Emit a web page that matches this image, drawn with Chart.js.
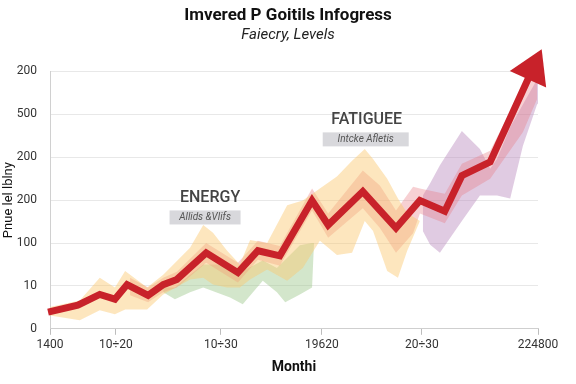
<!DOCTYPE html>
<html>
<head>
<meta charset="utf-8">
<script src="https://cdn.jsdelivr.net/npm/chart.js@4"></script>
<style>
  html, body { margin: 0; padding: 0; background: #fff; }
  #wrap { width: 576px; height: 384px; }
</style>
</head>
<body>
<div id="wrap"><canvas id="chart" width="576" height="384"></canvas></div>
<script>
// axis ticks
const xTicks = [0, 13.5, 35, 55.7, 76.2, 100];
const xTickLabels = ['1400', '10÷20', '10÷30', '19620', '20÷30', '224800'];
const yTickLabels = ['0', '10', '100', '200', '200', '500', '200'];

// main red line
const months = [-0.4, 5.7, 10.2, 13.3, 15.8, 20.1, 23.2, 26.0, 32.0, 38.5, 42.6, 47.1, 53.7, 57.0, 64.1, 70.9, 75.8, 80.9, 84.4, 90.2, 98.2];
const level = [0.39, 0.55, 0.80, 0.69, 1.03, 0.78, 1.03, 1.15, 1.77, 1.31, 1.82, 1.70, 2.99, 2.42, 3.20, 2.35, 2.99, 2.74, 3.57, 3.89, 5.88];

// yellow (energy) band
const yellowX = [-0.4, 6.1, 10.2, 13.3, 15.4, 19.9, 23.2, 28.7, 31.4, 33.4, 36.3, 38.9, 41.0, 44.5, 48.6, 51.8, 55.3, 58.8, 61.9, 64.5, 66.2, 69.1, 71.3, 73.2, 75.8];
const yellowHi = [0.50, 0.66, 1.19, 0.96, 1.35, 0.96, 1.26, 1.89, 2.42, 2.24, 1.82, 1.50, 2.07, 2.00, 2.88, 2.99, 3.27, 3.55, 3.92, 4.19, 3.96, 3.50, 3.04, 2.70, 2.51];
const yellowLo = [0.32, 0.20, 0.43, 0.34, 0.45, 0.45, 0.80, 1.15, 1.19, 1.03, 0.96, 0.96, 1.15, 1.38, 1.12, 1.42, 2.05, 1.72, 1.77, 2.51, 2.28, 1.35, 1.19, 1.82, 2.51];

// pink band
const pinkX = [16.4, 20.1, 23.2, 26.0, 32.0, 38.5, 42.6, 47.1, 53.7, 57.0, 64.1, 67.6, 70.9, 74.4, 75.8, 80.9, 84.4, 90.2, 96.9, 99.8];
const pinkHi = [1.19, 0.96, 1.19, 1.33, 2.00, 1.54, 2.05, 1.93, 3.27, 2.69, 3.69, 3.34, 2.76, 3.31, 3.27, 3.15, 3.85, 4.15, 5.65, 5.92];
const pinkLo = [0.78, 0.62, 0.85, 0.96, 1.54, 1.08, 1.61, 1.47, 2.76, 2.12, 2.81, 2.35, 1.77, 2.23, 2.69, 2.46, 3.11, 3.50, 4.58, 5.35];

// green band
const greenX = [23.2, 25.6, 28.7, 31.4, 36.9, 39.5, 43.6, 46.5, 48.2, 51.2, 53.7, 54.1];
const greenHi = [0.96, 0.96, 1.26, 1.50, 1.50, 1.35, 1.59, 1.42, 1.61, 1.95, 2.00, 2.00];
const greenLo = [0.85, 0.69, 0.85, 0.96, 0.73, 0.57, 1.12, 0.85, 0.62, 0.80, 0.96, 2.00];

// purple band
const purpleX = [76.4, 77.9, 79.9, 84.4, 88.1, 90.2, 91.6, 94.3, 96.9, 99.8, 101.4];
const purpleHi = [3.11, 3.39, 3.81, 4.61, 4.19, 3.73, 3.96, 4.70, 5.23, 5.81, 5.39];
const purpleLo = [2.28, 1.96, 1.77, 2.51, 3.11, 3.11, 3.11, 3.04, 4.26, 5.23, 5.39];

// orange tail next to the arrow
const tailX = [100.4, 102.0, 103.7];
const tailHi = [5.70, 5.58, 5.15];
const tailLo = [5.46, 5.07, 5.00];

const notes = [
    { x: 32.8, y: 3.05, label: 'ENERGY', note: 'Allids &Vlifs', boxW: 71, boxDx: -5 },
    { x: 64.9, y: 4.87, label: 'FATIGUEE', note: 'Intcke Afletis', boxW: 86, boxDx: -1 }
];

const pts = (xs, ys) => xs.map((x, i) => ({ x: x, y: ys[i] }));

function band(xs, lo, hi, color) {
    const base = { pointRadius: 0, borderWidth: 0, borderColor: 'transparent', tension: 0, clip: false };
    return [
        Object.assign({}, base, { data: pts(xs, lo), fill: false }),
        Object.assign({}, base, { data: pts(xs, hi), fill: '-1', backgroundColor: color })
    ];
}

// arrow head at the end of the red line
const arrowHead = {
    id: 'arrowHead',
    afterDatasetsDraw(chart) {
        const p = chart.getDatasetMeta(0).data;
        const a = p[p.length - 2], b = p[p.length - 1];
        let dx = b.x - a.x, dy = b.y - a.y;
        const len = Math.hypot(dx, dy);
        dx /= len; dy /= len;
        const nx = -dy, ny = dx;
        const ctx = chart.ctx;
        ctx.save();
        ctx.fillStyle = '#c8222a';
        ctx.beginPath();
        ctx.moveTo(b.x + dx * 30, b.y + dy * 30);
        ctx.lineTo(b.x - dx * 3 + nx * 20, b.y - dy * 3 + ny * 20);
        ctx.lineTo(b.x - dx * 3 - nx * 20, b.y - dy * 3 - ny * 20);
        ctx.closePath();
        ctx.fill();
        ctx.restore();
    }
};

// labels with grey boxes
const noteLabels = {
    id: 'noteLabels',
    afterDatasetsDraw(chart) {
        const ctx = chart.ctx;
        const xs = chart.scales.x, ys = chart.scales.y;
        ctx.save();
        notes.forEach(n => {
            const cx = xs.getPixelForValue(n.x), cy = ys.getPixelForValue(n.y);
            ctx.textAlign = 'center';
            ctx.textBaseline = 'middle';
            ctx.fillStyle = '#444';
            ctx.font = '500 16px Roboto';
            ctx.fillText(n.label, cx, cy);
            const bx = cx + n.boxDx, by = cy + 19.5;
            ctx.fillStyle = '#d8d8dc';
            ctx.fillRect(bx - n.boxW / 2, by - 7, n.boxW, 14);
            ctx.fillStyle = '#555';
            ctx.font = 'italic 10px Roboto';
            ctx.fillText(n.note, bx, by + 0.5);
        });
        ctx.restore();
    }
};

const ctx = document.getElementById('chart').getContext('2d');
new Chart(ctx, {
    type: 'line',
    data: {
        datasets: [
            {
                data: pts(months, level),
                borderColor: '#c8222a',
                borderWidth: 7,
                borderJoinStyle: 'miter',
                pointRadius: 0,
                tension: 0,
                fill: false,
                clip: false
            },
            ...band(yellowX, yellowLo, yellowHi, 'rgba(250, 200, 110, 0.45)'),
            ...band(pinkX, pinkLo, pinkHi, 'rgba(232, 120, 130, 0.35)'),
            ...band(greenX, greenLo, greenHi, 'rgba(150, 195, 130, 0.42)'),
            ...band(purpleX, purpleLo, purpleHi, 'rgba(180, 130, 185, 0.42)'),
            ...band(tailX, tailLo, tailHi, 'rgba(245, 170, 110, 0.6)')
        ]
    },
    options: {
        responsive: false,
        animation: false,
        layout: { padding: { left: 0, right: 0, top: 0, bottom: 4 } },
        plugins: {
            legend: { display: false },
            tooltip: { enabled: false },
            title: {
                display: true,
                text: 'Imvered P Goitils Infogress',
                color: '#111',
                font: { family: 'Roboto', size: 17, weight: 'bold' },
                padding: { top: 6, bottom: 0 }
            },
            subtitle: {
                display: true,
                text: 'Faiecry, Levels',
                color: '#222',
                font: { family: 'Roboto', size: 15, style: 'italic' },
                padding: { top: 0, bottom: 27 }
            }
        },
        scales: {
            x: {
                type: 'linear',
                min: 0,
                max: 100,
                afterBuildTicks: s => { s.ticks = xTicks.map(v => ({ value: v })); },
                ticks: {
                    callback: (v, i) => xTickLabels[i],
                    color: '#333',
                    font: { family: 'Roboto', size: 12 },
                    padding: 3,
                    maxRotation: 0,
                    autoSkip: false
                },
                grid: { drawOnChartArea: false, tickLength: 6, color: '#bdbdbd' },
                border: { color: '#cfcfcf' },
                title: {
                    display: true,
                    text: 'Monthi',
                    color: '#111',
                    font: { family: 'Roboto', size: 14, weight: 'bold' },
                    padding: { top: 4, bottom: 4 }
                }
            },
            y: {
                min: 0,
                max: 6,
                afterFit: s => { s.width = 50; },
                ticks: {
                    stepSize: 1,
                    callback: v => yTickLabels[v],
                    color: '#333',
                    font: { family: 'Roboto', size: 12 },
                    padding: 13
                },
                grid: { drawTicks: false, color: '#e8e8e8' },
                border: { color: '#d0d0d0' },
                title: {
                    display: true,
                    text: 'Pnue lel lblny',
                    color: '#111',
                    font: { family: 'Roboto', size: 13 },
                    padding: { top: 1, bottom: 0 }
                }
            },
            // empty right gutter so the titles stay centred on the page
            gutter: {
                position: 'right',
                display: true,
                afterFit: s => { s.width = 38; },
                ticks: { display: false },
                grid: { display: false },
                border: { display: false }
            }
        }
    },
    plugins: [arrowHead, noteLabels]
});
</script>
</body>
</html>
